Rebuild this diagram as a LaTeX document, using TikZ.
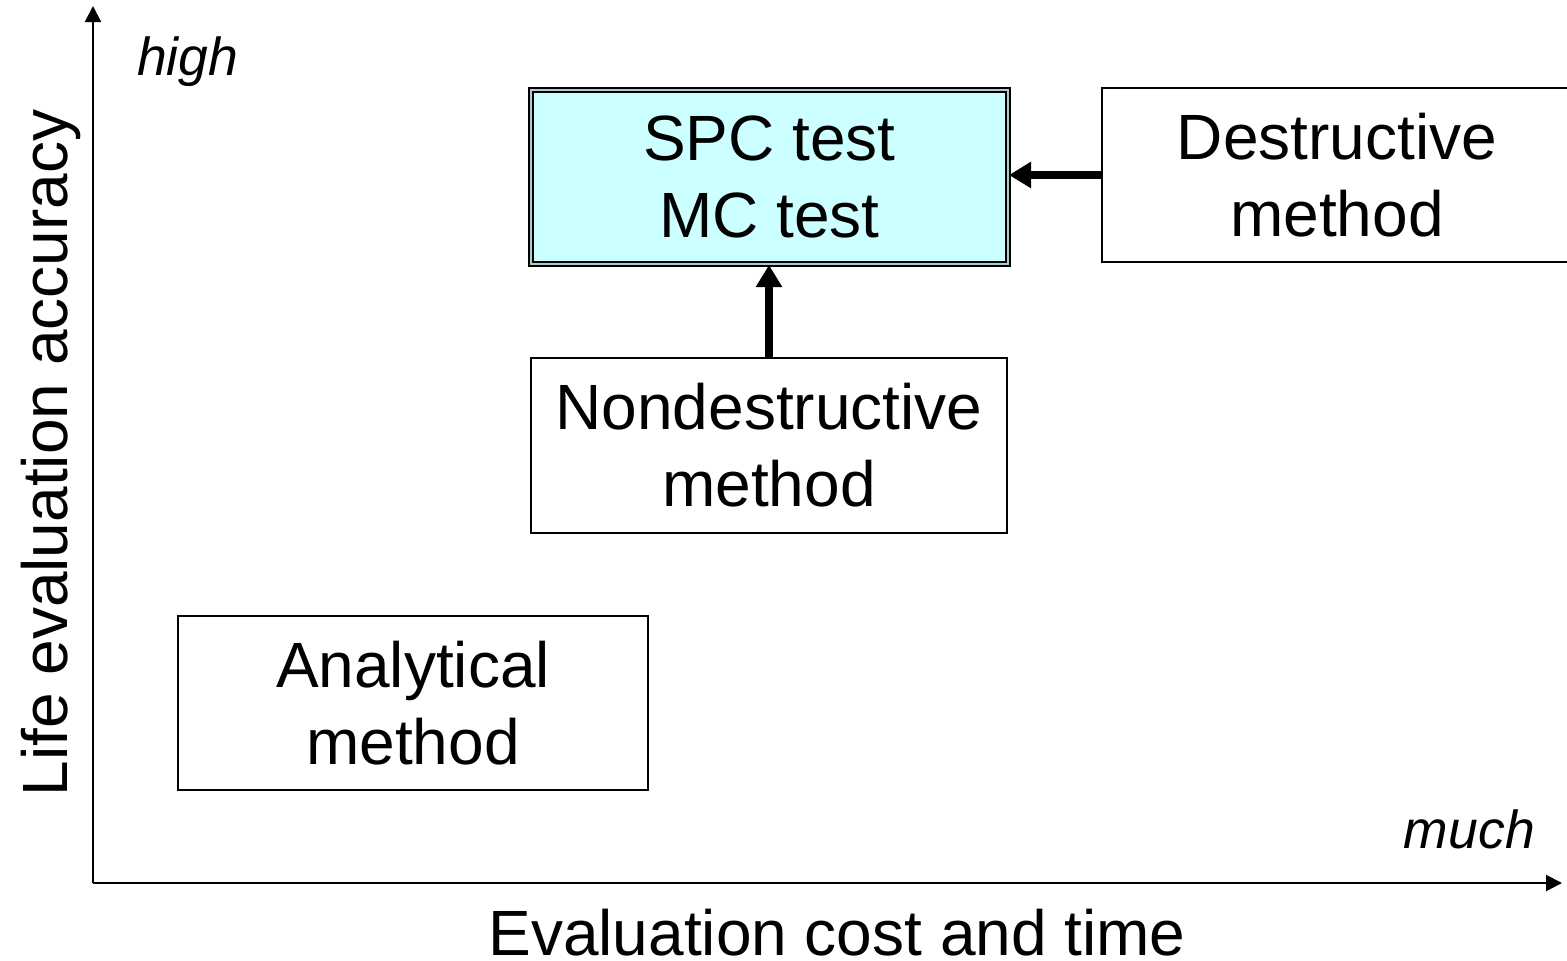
\documentclass[tikz,border=0pt]{standalone}
\usepackage{fontspec}
\setmainfont{Liberation Sans}
\usetikzlibrary{arrows.meta}
\definecolor{boxcyan}{HTML}{CCFFFF}
\tikzset{
  box/.style={draw=black, line width=1.5pt, fill=white, inner sep=0pt, align=center,
    font=\fontsize{64}{77}\selectfont},
  spcbox/.style={box, fill=boxcyan, draw=black, line width=2pt, double=boxcyan!60!gray, double distance=2pt},
  axis/.style={line width=2pt, -{Triangle[length=16pt,width=16pt]}},
  conn/.style={line width=7.5pt, -{Triangle[length=22pt,width=25pt]}},
  axislabel/.style={font=\fontsize{64}{72}\selectfont, inner sep=0pt},
  endlabel/.style={font=\fontsize{53.5}{60}\selectfont\itshape, inner sep=0pt}
}
\begin{document}
\begin{tikzpicture}[x=1pt,y=-1pt]
\useasboundingbox (0,0) rectangle (1567,961);
\clip (0,0) rectangle (1567,961);
% axes
\coordinate (origin) at (93,883);
\coordinate (ytop) at (93,6);
\coordinate (xend) at (1562,883);
\draw[axis] (origin) -- (ytop);
\draw[axis] (origin) -- (xend);
% boxes
\node[spcbox, minimum width=477pt, minimum height=174pt] (spc) at (769.5,177) {SPC test\\MC test};
\node[box, minimum width=470pt, minimum height=174pt] (des) at (1337,175) {Destructive\\method};
\node[box, minimum width=476pt, minimum height=175pt] (nde) at (769,445.5) {Nondestructive\\method};
\node[box, minimum width=470pt, minimum height=174pt] (ana) at (413,703) {Analytical\\method};
% connectors
\draw[conn] (des.west) -- (des.west -| spc.east);
\draw[conn] (nde.north) -- (nde.north |- spc.south);
% labels
\node[endlabel, anchor=base west] (high) at (137,75) {high};
\node[endlabel, anchor=base east] (much) at (1535,848) {much};
\node[axislabel, anchor=base] (xl) at (837,955) {Evaluation cost and time};
\node[axislabel, rotate=90, anchor=base] (yl) at (67,453) {Life evaluation accuracy};
\end{tikzpicture}
\end{document}
